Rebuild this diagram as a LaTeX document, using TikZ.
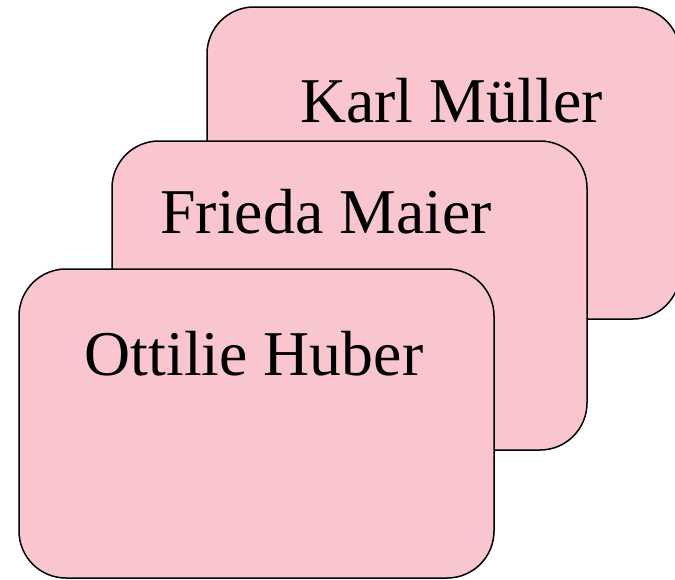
\documentclass[tikz,border=0pt]{standalone}
\usepackage{fontspec}
\setmainfont{Liberation Serif}
\usetikzlibrary{positioning}
\definecolor{cardpink}{RGB}{249,198,208}

\begin{document}
\begin{tikzpicture}[
    x=1pt, y=-1pt,
    card/.style={draw=black, fill=cardpink, line width=1.5pt,
                 rounded corners=47pt, inner sep=0pt},
    cardname/.style={anchor=base, inner sep=0pt,
                     font=\fontsize{63.8}{70}\selectfont},
]

% ---- page frame ----
\useasboundingbox (0, 0) rectangle (675, 579);
\clip (0, 0) rectangle (675, 579);

% ---- cards, back to front ----
\node[card, minimum width=473pt, minimum height=312pt] (karl)    at (443.5, 163)   {};
\node[card, minimum width=475pt, minimum height=309pt] (frieda)  at (349.5, 295.5) {};
\node[card, minimum width=475pt, minimum height=309pt] (ottilie) at (256.5, 423.5) {};

% ---- names ----
\node[cardname] (karlname)    at (451.5, 122) {Karl Müller};
\node[cardname] (friedaname)  at (326,   233) {Frieda Maier};
\node[cardname] (ottiliename) at (254,   375) {Ottilie Huber};

\end{tikzpicture}
\end{document}
